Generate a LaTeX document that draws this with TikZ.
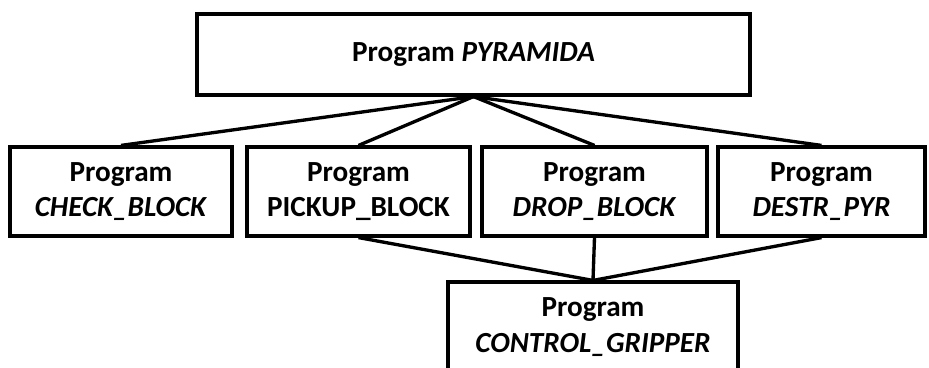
\documentclass[tikz,border=0pt]{standalone}
\usepackage{fontspec}
\setmainfont{Carlito}
\usetikzlibrary{positioning}

\begin{document}
\begin{tikzpicture}[
  prog/.style={rectangle, draw, line width=1.8pt, minimum height=1.78cm, align=center,
    font=\fontsize{16.6}{20}\selectfont\bfseries, inner sep=0pt},
  link/.style={line width=1.9pt}
]
  \useasboundingbox (0,0) rectangle (18.58,-7.36);
  \node[prog, minimum width=11.06cm, minimum height=1.62cm] (pyr) at (9.47,-1.09) {Program \textit{PYRAMIDA}};

  \node[prog, minimum width=4.44cm] (check) at (2.42,-3.83) {Program\\\textit{CHECK\_BLOCK}};
  \node[prog, minimum width=4.46cm] (pickup) at (7.17,-3.83) {Program\\PICKUP\_BLOCK};
  \node[prog, minimum width=4.50cm] (drop) at (11.89,-3.83) {Program\\\textit{DROP\_BLOCK}};
  \node[prog, minimum width=4.14cm] (destr) at (16.43,-3.83) {Program\\\textit{DESTR\_PYR}};

  \node[prog, minimum width=5.8cm, minimum height=1.8cm] (grip) at (11.86,-6.54) {Program\\\textit{CONTROL\_GRIPPER}};

  % main program calls
  \foreach \sub in {check,pickup,drop,destr}
    \draw[link] (pyr.south) -- (\sub.north);

  % gripper is called from three programs
  \foreach \sub in {pickup,drop,destr}
    \draw[link] (\sub.south) -- (grip.north);
\end{tikzpicture}
\end{document}
